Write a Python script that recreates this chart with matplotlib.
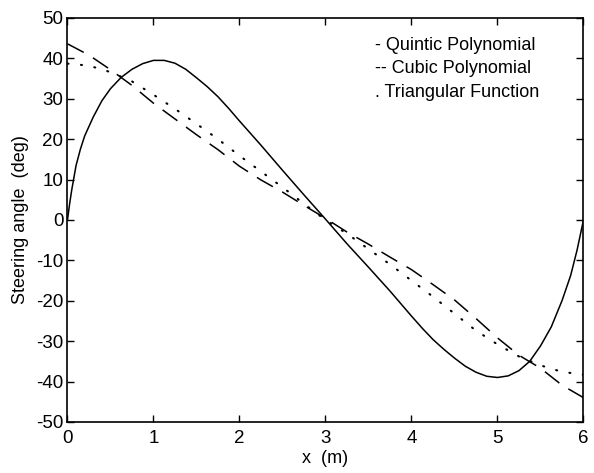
import matplotlib
matplotlib.use("Agg")
import matplotlib.pyplot as plt

# values
x_quintic = [0, 0.025, 0.05, 0.1, 0.15, 0.2, 0.3, 0.4, 0.5, 0.625, 0.75, 0.875,
             1.0, 1.125, 1.25, 1.375, 1.5, 1.625, 1.75, 1.875, 2.0, 2.25, 2.5,
             2.75, 3.0, 3.25, 3.5, 3.75, 4.0, 4.125, 4.25, 4.375, 4.5, 4.625,
             4.75, 4.875, 5.0, 5.125, 5.25, 5.375, 5.5, 5.625, 5.75, 5.85,
             5.925, 6.0]
quintic = [0, 4.0, 7.5, 13.5, 17.5, 20.8, 25.5, 29.5, 32.5, 35.3, 37.3, 38.7,
           39.5, 39.5, 38.8, 37.3, 35.2, 33.0, 30.5, 27.6, 24.5, 18.5, 12.3,
           6.2, 0.2, -5.9, -11.7, -17.6, -23.8, -26.8, -29.6, -32.0, -34.2, -36.2,
           -37.7, -38.7, -39.0, -38.6, -37.3, -35.0, -31.2, -26.5, -20.0, -13.8,
           -7.5, 0]

x_grid = [0, 0.25, 0.5, 0.75, 1.0, 1.25, 1.5, 1.75, 2.0, 2.25, 2.5, 2.75, 3.0,
          3.25, 3.5, 3.75, 4.0, 4.25, 4.5, 4.75, 5.0, 5.25, 5.5, 5.75, 6.0]
cubic = [43.6, 40.8, 37.2, 33.3, 28.9, 25.0, 21.1, 17.4, 13.3, 9.9, 6.9, 3.6, 0.4,
         -3.0, -6.0, -9.2, -12.3, -16.0, -19.8, -24.4, -29.2, -33.5, -36.7, -40.9, -44.0]
triangular = [38.7, 38.2, 36.6, 34.3, 31.0, 27.5, 23.8, 20.0, 15.9, 12.0, 8.1, 4.0, 0.0,
              -3.4, -7.2, -11.0, -15.0, -19.0, -23.2, -27.4, -30.8, -33.8, -36.0, -37.6, -38.3]

legend_lines = ["- Quintic Polynomial", "-- Cubic Polynomial", ". Triangular Function"]

plt.rcParams['font.family'] = ['Liberation Sans', 'DejaVu Sans']
plt.rcParams['axes.unicode_minus'] = False

fig = plt.figure(figsize=(5.94, 4.73), dpi=100)
ax = fig.add_axes([0.1136, 0.108, 0.8687, 0.854])

ax.plot(x_quintic, quintic, color='k', lw=1.1)
ax.plot(x_grid, cubic, color='k', lw=1.1, linestyle=(0, (12, 7)))
ax.plot(x_grid, triangular, color='k', lw=1.5, linestyle=(0, (0.5, 6)),
        dash_capstyle='round')

ax.set_xlim(0, 6)
ax.set_ylim(-50, 50)
ax.set_xticks(range(0, 7))
ax.set_yticks(range(-50, 51, 10))
ax.tick_params(direction='in', top=True, right=True, length=5, width=1,
               labelsize=13.5)
ax.tick_params(axis='x', pad=6)
ax.tick_params(axis='y', pad=3)
for s in ax.spines.values():
    s.set_linewidth(1.2)

ax.set_xlabel("x  (m)", fontsize=13, labelpad=2)
ax.set_ylabel("Steering angle  (deg)", fontsize=13, labelpad=5)

for i, t in enumerate(legend_lines):
    ax.text(0.596, 0.933 - i * 0.059, t, transform=ax.transAxes,
            fontsize=13, va='center', ha='left')

fig.savefig("out.png", dpi=100)
